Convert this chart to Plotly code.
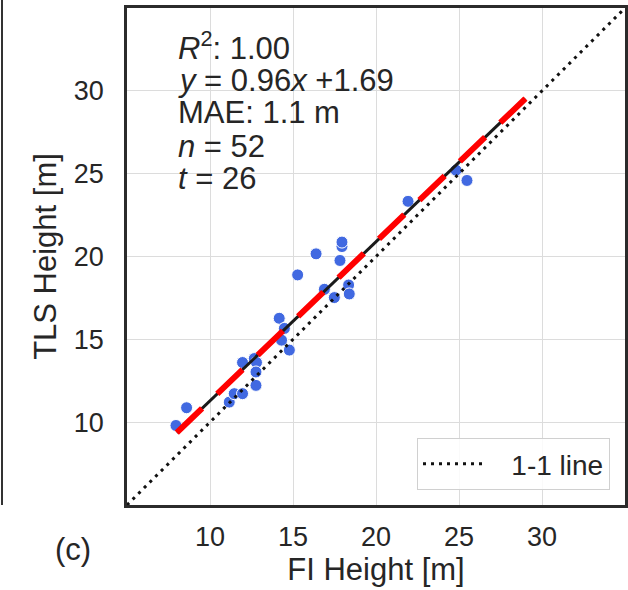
import plotly.graph_objects as go

# ---- data ----
fi_height = [7.95, 8.59, 11.16, 11.46, 11.96, 11.96, 12.67, 12.80, 12.77, 12.77,
             14.17, 14.48, 14.31, 14.78, 15.28, 16.39, 16.89, 17.49, 17.95, 17.95,
             17.83, 18.35, 18.39, 21.93, 24.82, 25.48]
tls_height = [9.80, 10.87, 11.21, 11.72, 11.72, 13.60, 13.84, 13.60, 13.03, 12.22,
              16.27, 15.66, 14.95, 14.35, 18.89, 20.16, 18.02, 17.52, 20.60, 20.87,
              19.76, 18.28, 17.74, 23.33, 25.21, 24.59]

one_to_one = [5, 35]
fit_slope = 0.96
fit_intercept = 1.69
fit_x = [8.0, 29.0]
fit_y = [fit_slope * v + fit_intercept for v in fit_x]

tick_vals = [10, 15, 20, 25, 30]
tick_text = ["10", "15", "20", "25", "30"]
axis_range = [5, 35]

stat_lines = [
    "<i>R</i><sup>2</sup>: 1.00",
    "<i>y</i> = 0.96<i>x</i> +1.69",
    "MAE: 1.1 m",
    "<i>n</i> = 52",
    "<i>t</i> = 26",
]

TXT = "#262626"
FONT = "Liberation Sans, Arial, sans-serif"
NB = "\u00a0"

fig = go.Figure()

fig.add_trace(go.Scatter(
    x=fi_height, y=tls_height, mode="markers",
    marker=dict(size=12, color="#4169E1", line=dict(color="white", width=1)),
    showlegend=False, hoverinfo="skip"))

fig.add_trace(go.Scatter(
    x=one_to_one, y=one_to_one, mode="lines", name=NB * 3 + "1-1 line",
    line=dict(color="#111111", width=3, dash="3px,5px"),
    showlegend=True))

fig.add_trace(go.Scatter(
    x=fit_x, y=fit_y, mode="lines",
    line=dict(color="#1a1a1a", width=3), showlegend=False))

fig.add_trace(go.Scatter(
    x=fit_x, y=fit_y, mode="lines",
    line=dict(color="#ff0000", width=6, dash="35px,21px"), showlegend=False))

axis_common = dict(
    range=axis_range, tickvals=tick_vals, ticktext=tick_text,
    showgrid=True, gridcolor="#dcdcdc", gridwidth=1,
    zeroline=False, showline=True, mirror=True,
    linecolor="#2b2b2b", linewidth=2.5,
    ticks="", tickfont=dict(size=27, color=TXT, family=FONT),
)

fig.update_xaxes(**axis_common, ticklabelstandoff=6,
                 title=dict(text="FI Height [m]", font=dict(size=31, color=TXT, family=FONT),
                            standoff=2))
fig.update_yaxes(**axis_common, ticklabelstandoff=15,
                 title=dict(text="TLS Height [m]", font=dict(size=31, color=TXT, family=FONT),
                            standoff=8))

annotations = []
line_y = [46, 80, 113, 146, 178]
for txt, py in zip(stat_lines, line_y):
    annotations.append(dict(
        text=txt, xref="paper", yref="paper",
        x=(176 - 127) / 498, y=1 - (py - 8) / 497,
        xanchor="left", yanchor="middle", showarrow=False,
        font=dict(size=31, color=TXT, family=FONT)))

annotations.append(dict(
    text="(c)", xref="paper", yref="paper",
    x=(73 - 127) / 498, y=1 - (549 - 8) / 497,
    xanchor="center", yanchor="middle", showarrow=False,
    font=dict(size=31, color=TXT, family=FONT)))

fig.update_layout(
    width=628, height=590,
    margin=dict(l=127, r=3, t=8, b=85, autoexpand=False),
    paper_bgcolor="white", plot_bgcolor="white",
    font=dict(family=FONT, color=TXT),
    annotations=annotations,
    legend=dict(
        x=(610 - 127) / 498, y=(505 - 490) / 497,
        xanchor="right", yanchor="bottom",
        bgcolor="rgba(255,255,255,0.85)", bordercolor="#d0d0d0", borderwidth=1,
        font=dict(size=28, color=TXT, family=FONT),
        itemwidth=60,
    ),
    shapes=[dict(type="line", xref="paper", yref="paper",
                 x0=(2 - 127) / 498, x1=(2 - 127) / 498, y0=0, y1=1.0161,
                 line=dict(color="#333333", width=2))],
)

fig.write_html("out.html")
